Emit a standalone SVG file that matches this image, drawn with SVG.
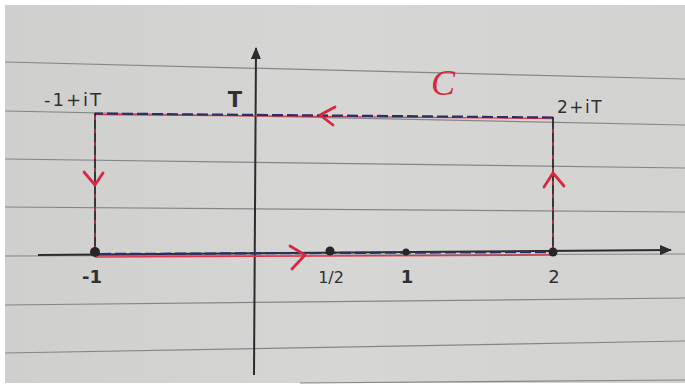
<svg xmlns="http://www.w3.org/2000/svg" width="685" height="388" viewBox="0 0 685 388">
  <defs>
    <linearGradient id="paper" x1="0" y1="0" x2="1" y2="0">
      <stop offset="0" stop-color="#cfcfcd"/>
      <stop offset="0.5" stop-color="#d6d6d4"/>
      <stop offset="1" stop-color="#d2d2d0"/>
    </linearGradient>
    <marker id="axisHead" viewBox="0 0 12 10" refX="11" refY="5" markerWidth="12" markerHeight="10" markerUnits="userSpaceOnUse" orient="auto">
      <path d="M0,0 L12,5 L0,10 Z" fill="#2c2c2e"/>
    </marker>
  </defs>
  <style>
    .rule { stroke: #858688; stroke-width: 1.2; fill: none; }
    .axis { stroke: #2c2c2e; stroke-width: 2; fill: none; }
    .pencil { stroke: #26262a; stroke-width: 1.8; fill: none; }
    .red { stroke: #e2344a; stroke-width: 1.4; fill: none; }
    .reddash { stroke: #e2344a; stroke-width: 1.2; fill: none; stroke-dasharray: 4 9; }
    .dash { stroke: #2c2f66; stroke-width: 2.2; fill: none; stroke-dasharray: 11 4; }
    .chev { stroke: #d8283f; stroke-width: 2.8; fill: none; stroke-linecap: round; stroke-linejoin: round; }
    .dot { fill: #262628; }
    .lbl { font-family: "DejaVu Sans", "Liberation Sans", sans-serif; fill: #303032; }
  </style>

  <!-- photo border and paper -->
  <rect x="0" y="0" width="685" height="388" fill="#ffffff"/>
  <rect x="5" y="5" width="680" height="378" fill="url(#paper)"/>

  <!-- ruled lines of the paper -->
  <g id="ruled-lines">
    <line class="rule" x1="5" y1="62" x2="685" y2="79"/>
    <line class="rule" x1="5" y1="111" x2="685" y2="125"/>
    <line class="rule" x1="5" y1="159" x2="685" y2="168"/>
    <line class="rule" x1="5" y1="207" x2="685" y2="212"/>
    <line class="rule" x1="5" y1="256" x2="685" y2="254"/>
    <line class="rule" x1="5" y1="305" x2="685" y2="298"/>
    <line class="rule" x1="5" y1="353" x2="685" y2="341"/>
    <line class="rule" x1="300" y1="383" x2="685" y2="380"/>
  </g>

  <!-- axes -->
  <g id="axes">
    <line class="axis" x1="38" y1="255" x2="671" y2="250" marker-end="url(#axisHead)"/>
    <line class="axis" x1="254" y1="375" x2="256" y2="48" marker-end="url(#axisHead)"/>
  </g>

  <!-- contour C -->
  <g id="connectors">
    <!-- top edge: 2+iT to -1+iT -->
    <path class="red" d="M553,118.5 L95,114.5"/>
    <path class="dash" d="M553,117.5 L95,113.5"/>
    <!-- left edge: down -->
    <path class="pencil" d="M95,113 L95,252"/>
    <path class="reddash" d="M95,116 L95,250"/>
    <!-- bottom edge: -1 to 2 -->
    <path class="red" d="M95,257 L553,255"/>
    <path class="dash" d="M100,254 L553,252"/>
    <!-- right edge: up -->
    <path class="pencil" d="M553,252 L553,117"/>
    <path class="reddash" d="M553,250 L553,120"/>
    <!-- direction chevrons -->
    <path class="chev" d="M84,172 L95,185 L103,173"/>
    <path class="chev" d="M544,187 L553,173 L564,186"/>
    <path class="chev" d="M335,107 L320,115 L333,125"/>
    <path class="chev" d="M290,246 L305,255 L292,269"/>
  </g>

  <!-- points on the real axis -->
  <g id="point-minus1"><circle class="dot" cx="95" cy="252" r="5"/></g>
  <g id="point-half"><circle class="dot" cx="330" cy="251" r="4.5"/></g>
  <g id="point-1"><circle class="dot" cx="406" cy="252" r="3.5"/></g>
  <g id="point-2"><circle class="dot" cx="553" cy="252" r="4.5"/></g>

  <!-- labels -->
  <g id="label-corner-left"><text class="lbl" x="44" y="106" font-size="18" letter-spacing="2">-1+iT</text></g>
  <g id="label-T"><text class="lbl" x="235" y="107" font-size="21" text-anchor="middle" font-weight="bold">T</text></g>
  <g id="label-corner-right"><text class="lbl" x="557" y="113" font-size="17" letter-spacing="1.5">2+iT</text></g>
  <g id="label-C"><text x="431" y="95" font-size="36" font-style="italic" font-family="Liberation Serif, serif" fill="#d42a3c">C</text></g>
  <g id="label-m1"><text class="lbl" x="92" y="283" font-size="18" text-anchor="middle" font-weight="bold">-1</text></g>
  <g id="label-half"><text class="lbl" x="331" y="283" font-size="16" text-anchor="middle">1/2</text></g>
  <g id="label-one"><text class="lbl" x="407" y="283" font-size="18" text-anchor="middle" font-weight="bold">1</text></g>
  <g id="label-two"><text class="lbl" x="554" y="283" font-size="18" text-anchor="middle">2</text></g>
</svg>
